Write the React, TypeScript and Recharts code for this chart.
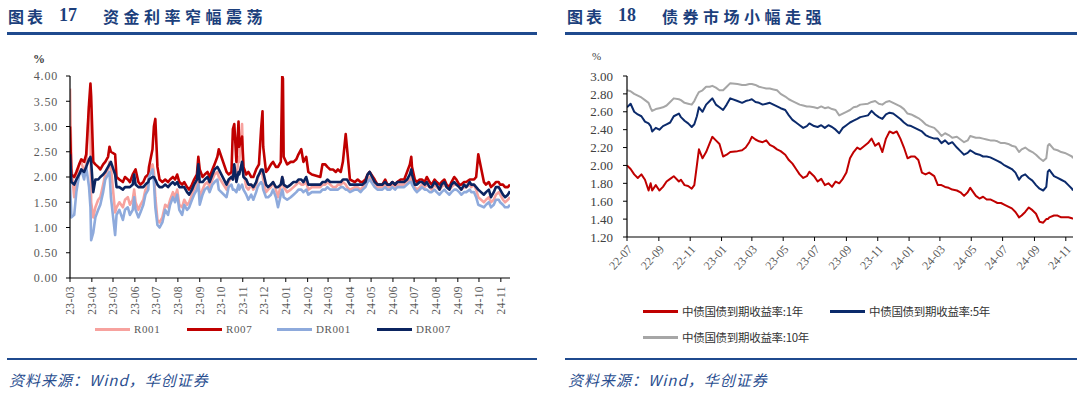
import React from 'react';
import { LineChart, Line, XAxis, YAxis } from 'recharts';

// ---------------- Left chart (图表17) data ----------------
const leftDates = [
  '2023-03-01','2023-03-03','2023-03-07','2023-03-10','2023-03-14','2023-03-17','2023-03-21','2023-03-24','2023-03-28','2023-03-30','2023-03-31',
  '2023-04-03','2023-04-06','2023-04-10','2023-04-13','2023-04-17','2023-04-20','2023-04-24','2023-04-26','2023-04-28',
  '2023-05-04','2023-05-06','2023-05-10','2023-05-15','2023-05-18','2023-05-22','2023-05-25','2023-05-29','2023-05-31',
  '2023-06-02','2023-06-06','2023-06-09','2023-06-13','2023-06-16','2023-06-20','2023-06-21','2023-06-26','2023-06-28','2023-06-30',
  '2023-07-03','2023-07-06','2023-07-10','2023-07-14','2023-07-18','2023-07-21','2023-07-25','2023-07-28','2023-07-31',
  '2023-08-03','2023-08-07','2023-08-10','2023-08-14','2023-08-17','2023-08-21','2023-08-24','2023-08-28','2023-08-30',
  '2023-09-01','2023-09-05','2023-09-08','2023-09-12','2023-09-15','2023-09-19','2023-09-22','2023-09-26','2023-09-28',
  '2023-10-09','2023-10-12','2023-10-16','2023-10-18','2023-10-20','2023-10-23','2023-10-26','2023-10-27','2023-10-31',
  '2023-11-02','2023-11-06','2023-11-09','2023-11-13','2023-11-16','2023-11-20','2023-11-22','2023-11-24','2023-11-27','2023-11-29','2023-11-30',
  '2023-12-04','2023-12-07','2023-12-11','2023-12-14','2023-12-18','2023-12-21','2023-12-25','2023-12-27','2023-12-28','2023-12-29',
  '2024-01-03','2024-01-08','2024-01-12','2024-01-16','2024-01-19','2024-01-23','2024-01-26','2024-01-30',
  '2024-02-02','2024-02-07','2024-02-19','2024-02-22','2024-02-26','2024-02-29',
  '2024-03-04','2024-03-08','2024-03-12','2024-03-15','2024-03-19','2024-03-22','2024-03-26','2024-03-28',
  '2024-04-01','2024-04-08','2024-04-12','2024-04-16','2024-04-19','2024-04-23','2024-04-26','2024-04-29',
  '2024-05-06','2024-05-10','2024-05-14','2024-05-17','2024-05-21','2024-05-24','2024-05-28','2024-05-31',
  '2024-06-04','2024-06-07','2024-06-12','2024-06-17','2024-06-21','2024-06-25','2024-06-27','2024-06-28',
  '2024-07-02','2024-07-05','2024-07-09','2024-07-12','2024-07-16','2024-07-19','2024-07-23','2024-07-26','2024-07-30',
  '2024-08-02','2024-08-06','2024-08-09','2024-08-13','2024-08-16','2024-08-20','2024-08-23','2024-08-27','2024-08-30',
  '2024-09-03','2024-09-06','2024-09-10','2024-09-13','2024-09-18','2024-09-20','2024-09-24','2024-09-27','2024-09-30',
  '2024-10-08','2024-10-11','2024-10-15','2024-10-18','2024-10-22','2024-10-25','2024-10-29','2024-10-31',
  '2024-11-04','2024-11-07','2024-11-11','2024-11-14',
];

const r001 = [
  3.75,2.20,1.60,1.95,2.25,2.30,2.10,2.25,3.40,2.90,1.50,
  1.20,1.40,1.55,1.60,1.85,2.05,2.15,2.30,2.20,
  1.30,1.40,1.50,1.40,1.55,1.60,1.45,1.55,1.75,
  1.50,1.35,1.45,1.55,1.75,1.85,2.10,2.25,2.10,1.60,
  1.15,1.10,1.20,1.45,1.40,1.55,1.70,1.60,1.75,
  1.45,1.40,1.55,1.45,1.50,1.65,1.75,1.85,1.95,
  1.60,1.75,1.85,1.90,1.80,1.95,2.05,2.10,2.00,
  1.75,1.90,2.00,2.10,2.00,1.95,2.40,2.30,3.05,
  2.10,1.80,1.75,1.85,1.75,1.85,1.95,2.05,2.10,2.05,1.95,
  1.70,1.75,1.80,1.90,1.75,1.60,1.85,2.00,1.95,1.80,
  1.70,1.75,1.80,1.85,1.90,1.85,1.85,1.90,
  1.75,1.80,1.80,1.85,1.85,1.90,
  1.85,1.80,1.80,1.85,1.85,1.90,1.85,1.80,
  1.75,1.80,1.80,1.75,1.80,1.85,1.95,2.00,
  1.85,1.80,1.80,1.80,1.85,1.80,1.80,1.85,
  1.80,1.85,1.85,1.85,1.90,1.95,2.00,1.90,
  1.80,1.75,1.80,1.85,1.80,1.85,1.80,1.75,1.85,
  1.80,1.75,1.80,1.85,1.80,1.75,1.80,1.85,1.85,
  1.80,1.75,1.80,1.80,1.85,1.80,1.85,1.75,1.60,
  1.50,1.55,1.60,1.50,1.55,1.65,1.70,1.65,
  1.55,1.50,1.55,1.60,
];

const r007 = [
  3.00,2.05,2.00,2.10,2.25,2.35,2.30,2.45,3.45,3.85,3.60,
  2.30,2.25,2.20,2.15,2.25,2.30,2.40,2.60,2.50,
  2.45,2.00,1.95,1.90,2.00,1.95,1.90,2.05,2.10,
  2.15,1.90,1.85,1.90,2.00,2.05,2.20,2.55,3.00,3.15,
  2.20,1.95,1.90,1.95,1.90,1.95,2.00,1.95,2.05,
  1.90,1.85,1.90,1.80,1.75,1.85,1.95,2.05,2.40,
  2.15,2.00,2.05,2.10,2.00,2.15,2.25,2.40,2.55,
  2.10,2.05,2.10,2.95,3.05,2.30,3.10,2.60,2.80,
  2.20,2.05,2.10,2.00,2.00,2.15,2.20,2.25,2.95,3.30,2.60,
  2.10,2.15,2.25,2.30,2.20,2.20,2.30,4.00,3.95,2.40,
  2.25,2.30,2.30,2.35,2.45,2.55,2.30,2.40,
  2.10,2.05,2.00,2.25,2.25,2.20,
  2.15,2.15,2.10,2.15,2.10,2.30,2.85,2.55,
  1.95,1.90,1.95,1.90,1.90,1.95,2.05,2.10,
  1.95,1.85,1.85,1.85,1.95,1.85,1.85,1.90,
  1.85,1.90,1.95,1.95,2.10,2.25,2.40,2.20,
  1.95,1.90,1.95,1.95,1.90,2.00,1.90,1.85,1.95,
  1.90,1.85,1.90,1.95,1.85,1.80,1.90,2.00,1.95,
  1.85,1.85,1.90,1.90,1.95,1.95,1.95,2.00,2.45,
  1.90,1.85,1.90,1.80,1.85,1.90,1.90,1.85,
  1.85,1.80,1.80,1.85,
];

const dr001 = [
  1.90,1.20,1.25,1.70,2.05,2.15,1.95,2.20,1.80,1.40,0.75,
  0.90,1.20,1.35,1.45,1.70,1.95,2.05,2.10,1.60,
  0.85,1.25,1.35,1.15,1.35,1.40,1.25,1.35,1.60,
  1.35,1.20,1.30,1.45,1.65,1.75,2.00,2.15,1.90,1.40,
  1.05,1.00,1.10,1.35,1.25,1.45,1.60,1.50,1.65,
  1.35,1.25,1.45,1.35,1.40,1.55,1.65,1.75,1.85,
  1.45,1.65,1.75,1.80,1.70,1.85,1.90,1.95,1.75,
  1.60,1.80,1.85,1.75,1.75,1.70,1.85,1.75,1.85,
  1.75,1.65,1.55,1.65,1.55,1.70,1.80,1.85,1.90,1.85,1.75,
  1.60,1.60,1.65,1.75,1.60,1.40,1.65,1.75,1.70,1.60,
  1.55,1.60,1.65,1.70,1.75,1.75,1.70,1.75,
  1.65,1.70,1.70,1.75,1.75,1.80,
  1.75,1.75,1.75,1.75,1.80,1.80,1.75,1.75,
  1.70,1.75,1.75,1.70,1.75,1.80,1.90,1.95,
  1.80,1.75,1.75,1.75,1.80,1.75,1.75,1.80,
  1.75,1.80,1.80,1.80,1.85,1.90,1.90,1.85,
  1.75,1.70,1.75,1.80,1.75,1.75,1.70,1.70,1.75,
  1.70,1.65,1.70,1.75,1.70,1.65,1.70,1.75,1.75,
  1.70,1.65,1.70,1.70,1.75,1.70,1.70,1.60,1.45,
  1.40,1.45,1.50,1.40,1.45,1.55,1.55,1.50,
  1.45,1.40,1.40,1.45,
];

const dr007 = [
  2.45,1.90,1.85,1.95,2.05,2.15,2.10,2.20,2.35,2.40,2.30,
  1.70,1.95,1.95,2.00,2.05,2.10,2.20,2.25,2.30,
  2.05,1.80,1.80,1.75,1.80,1.80,1.80,1.85,2.05,
  1.85,1.80,1.80,1.80,1.85,1.90,1.95,2.00,2.00,1.95,
  1.85,1.80,1.80,1.85,1.80,1.85,1.90,1.85,1.90,
  1.80,1.80,1.80,1.70,1.65,1.75,1.85,1.95,2.25,
  1.90,1.90,1.95,2.00,1.90,2.05,2.15,2.20,2.15,
  1.85,1.95,2.00,1.95,2.25,1.90,2.10,2.05,2.30,
  2.00,1.95,1.85,1.85,1.80,1.90,2.00,2.05,2.15,2.15,2.10,
  1.85,1.80,1.85,1.90,1.80,1.80,1.85,2.00,1.95,1.85,
  1.80,1.85,1.90,1.90,1.95,1.95,1.90,2.00,
  1.85,1.85,1.85,1.90,1.90,1.95,
  1.90,1.90,1.90,1.90,1.90,1.95,1.95,1.95,
  1.85,1.85,1.85,1.85,1.85,1.90,2.05,2.10,
  1.90,1.85,1.85,1.85,1.90,1.85,1.85,1.90,
  1.85,1.90,1.90,1.90,1.95,2.05,2.15,2.05,
  1.85,1.85,1.90,1.90,1.85,1.90,1.80,1.80,1.90,
  1.85,1.75,1.85,1.90,1.80,1.75,1.85,1.90,1.85,
  1.80,1.75,1.85,1.80,1.90,1.85,1.85,1.80,1.75,
  1.65,1.70,1.75,1.60,1.70,1.80,1.80,1.75,
  1.65,1.60,1.65,1.72,
];

const leftTickLabels = ['23-03','23-04','23-05','23-06','23-07','23-08','23-09','23-10','23-11','23-12','24-01','24-02','24-03','24-04','24-05','24-06','24-07','24-08','24-09','24-10','24-11'];
const leftYTicks = [0, 0.5, 1, 1.5, 2, 2.5, 3, 3.5, 4];
const leftSeriesNames = ['R001', 'R007', 'DR001', 'DR007'];

// ---------------- Right chart (图表18) data ----------------
const rightDates = [
  '2022-07-01','2022-07-08','2022-07-15','2022-07-22','2022-07-29','2022-08-05','2022-08-12','2022-08-16','2022-08-19','2022-08-26',
  '2022-09-02','2022-09-09','2022-09-16','2022-09-23','2022-09-30','2022-10-10','2022-10-14','2022-10-21','2022-10-28','2022-11-04',
  '2022-11-09','2022-11-14','2022-11-18','2022-11-25','2022-12-02','2022-12-09','2022-12-14','2022-12-21','2022-12-28','2023-01-04',
  '2023-01-11','2023-01-18','2023-02-01','2023-02-10','2023-02-17','2023-02-24','2023-03-01','2023-03-08','2023-03-15','2023-03-22',
  '2023-03-29','2023-04-05','2023-04-12','2023-04-19','2023-04-26','2023-05-05','2023-05-12','2023-05-19','2023-05-26','2023-06-02',
  '2023-06-09','2023-06-16','2023-06-21','2023-06-30','2023-07-07','2023-07-14','2023-07-21','2023-07-28','2023-08-04','2023-08-11',
  '2023-08-18','2023-08-25','2023-09-01','2023-09-08','2023-09-15','2023-09-22','2023-09-28','2023-10-13','2023-10-20','2023-10-27',
  '2023-11-03','2023-11-10','2023-11-17','2023-11-24','2023-12-01','2023-12-08','2023-12-15','2023-12-22','2023-12-29','2024-01-05',
  '2024-01-12','2024-01-19','2024-01-26','2024-02-02','2024-02-09','2024-02-19','2024-02-26','2024-03-04','2024-03-11','2024-03-18',
  '2024-03-25','2024-04-03','2024-04-10','2024-04-17','2024-04-24','2024-04-29','2024-05-10','2024-05-17','2024-05-24','2024-05-31',
  '2024-06-07','2024-06-14','2024-06-21','2024-06-28','2024-07-05','2024-07-12','2024-07-19','2024-07-26','2024-08-02','2024-08-07',
  '2024-08-14','2024-08-21','2024-08-28','2024-09-04','2024-09-11','2024-09-18','2024-09-24','2024-09-27','2024-09-30','2024-10-09',
  '2024-10-16','2024-10-23','2024-10-30','2024-11-06','2024-11-13','2024-11-15',
];

const yield1Y = [
  2.00,1.96,1.90,1.86,1.90,1.84,1.72,1.80,1.72,1.78,
  1.72,1.76,1.82,1.85,1.88,1.82,1.84,1.78,1.77,1.74,
  1.78,2.00,2.18,2.08,2.15,2.25,2.32,2.28,2.24,2.10,
  2.12,2.15,2.16,2.17,2.20,2.26,2.32,2.29,2.27,2.26,
  2.28,2.23,2.21,2.18,2.16,2.12,2.06,2.02,1.96,1.90,
  1.86,1.88,1.93,1.88,1.82,1.85,1.78,1.80,1.76,1.82,
  1.80,1.85,1.92,2.08,2.15,2.20,2.18,2.25,2.30,2.22,
  2.25,2.15,2.30,2.38,2.36,2.38,2.30,2.20,2.08,2.10,
  2.10,2.06,1.92,1.90,1.92,1.88,1.78,1.78,1.76,1.75,
  1.73,1.72,1.70,1.66,1.70,1.75,1.66,1.63,1.65,1.62,
  1.62,1.60,1.58,1.58,1.56,1.54,1.52,1.48,1.42,1.44,
  1.48,1.53,1.50,1.46,1.37,1.36,1.40,1.40,1.42,1.44,
  1.44,1.42,1.42,1.42,1.41,1.40,
];

const yield5Y = [
  2.65,2.69,2.60,2.57,2.55,2.49,2.47,2.44,2.38,2.42,
  2.40,2.44,2.46,2.48,2.55,2.58,2.54,2.50,2.47,2.43,
  2.46,2.55,2.65,2.60,2.68,2.72,2.75,2.68,2.65,2.62,
  2.68,2.75,2.72,2.70,2.72,2.73,2.74,2.71,2.70,2.68,
  2.69,2.70,2.68,2.66,2.64,2.62,2.56,2.51,2.48,2.45,
  2.42,2.44,2.47,2.44,2.43,2.45,2.42,2.45,2.43,2.40,
  2.36,2.42,2.45,2.48,2.50,2.52,2.54,2.56,2.61,2.57,
  2.54,2.52,2.57,2.59,2.58,2.55,2.52,2.48,2.45,2.44,
  2.42,2.40,2.38,2.34,2.32,2.30,2.30,2.25,2.28,2.24,
  2.26,2.20,2.16,2.12,2.14,2.17,2.13,2.12,2.10,2.10,
  2.09,2.07,2.05,2.03,2.00,1.98,1.96,1.92,1.84,1.88,
  1.90,1.86,1.83,1.78,1.74,1.72,1.76,1.93,1.95,1.88,
  1.86,1.84,1.82,1.78,1.74,1.72,
];

const yield10Y = [
  2.84,2.83,2.80,2.78,2.76,2.73,2.70,2.64,2.61,2.63,
  2.64,2.65,2.67,2.71,2.75,2.74,2.73,2.70,2.69,2.68,
  2.72,2.78,2.82,2.84,2.88,2.88,2.89,2.87,2.84,2.84,
  2.88,2.92,2.91,2.90,2.90,2.91,2.91,2.90,2.88,2.87,
  2.86,2.86,2.85,2.84,2.80,2.77,2.74,2.72,2.70,2.68,
  2.67,2.66,2.66,2.65,2.64,2.66,2.64,2.65,2.63,2.62,
  2.56,2.58,2.60,2.62,2.65,2.66,2.68,2.69,2.71,2.72,
  2.69,2.68,2.71,2.72,2.70,2.68,2.66,2.63,2.58,2.57,
  2.55,2.53,2.50,2.46,2.44,2.42,2.38,2.33,2.36,2.34,
  2.31,2.32,2.29,2.26,2.28,2.33,2.31,2.31,2.30,2.29,
  2.28,2.28,2.27,2.25,2.25,2.24,2.22,2.21,2.15,2.18,
  2.20,2.17,2.15,2.12,2.08,2.05,2.08,2.22,2.24,2.18,
  2.17,2.15,2.14,2.12,2.10,2.08,
];

const rightTickLabels = ['22-07','22-09','22-11','23-01','23-03','23-05','23-07','23-09','23-11','24-01','24-03','24-05','24-07','24-09','24-11'];
const rightYTicks = [1.2, 1.4, 1.6, 1.8, 2.0, 2.2, 2.4, 2.6, 2.8, 3.0];
const rightSeriesNames = ['中债国债到期收益率:1年', '中债国债到期收益率:5年', '中债国债到期收益率:10年'];

// ---------------- helpers ----------------
const toTs = (d: string) => Date.parse(d + 'T00:00:00Z');
const labelTs = (l: string) => Date.UTC(2000 + Number(l.slice(0, 2)), Number(l.slice(3, 5)) - 1, 1);

const leftData = leftDates.map((d, i) => ({ t: toTs(d), r001: r001[i], r007: r007[i], dr001: dr001[i], dr007: dr007[i] }));
const rightData = rightDates.map((d, i) => ({ t: toTs(d), y1: yield1Y[i], y5: yield5Y[i], y10: yield10Y[i] }));
const leftTicks = leftTickLabels.map(labelTs);
const rightTicks = rightTickLabels.map(labelTs);

const BLUE = '#1F4A8E';
const AXIS_TEXT = '#595959';
const SERIF = '"Liberation Serif", "Times New Roman", serif';
const CJK = '"Noto Sans CJK SC", "Noto Sans", sans-serif';

const LeftXTick = (props: any) => {
  const { x, y, index } = props;
  return (
    <text x={x} y={y} transform={`rotate(-90, ${x}, ${y})`} textAnchor="end" dominantBaseline="central"
      fontFamily={SERIF} fontSize={11.5} fill={AXIS_TEXT} letterSpacing={0.4}>
      {leftTickLabels[index]}
    </text>
  );
};

const RightXTick = (props: any) => {
  const { x, y, index } = props;
  return (
    <text x={x + 3} y={y + 2} transform={`rotate(-48, ${x + 3}, ${y + 2})`} textAnchor="end" dominantBaseline="central"
      fontFamily={SERIF} fontSize={12} fill={AXIS_TEXT}>
      {rightTickLabels[index]}
    </text>
  );
};

const LegendItem = ({ color, label, left, top, font, size, textColor, spacing }: any) => (
  <div style={{ position: 'absolute', left, top, height: 14, display: 'flex', alignItems: 'center', whiteSpace: 'nowrap' }}>
    <div style={{ width: 35, height: 3, background: color }} />
    <span style={{ marginLeft: 4, fontFamily: font, fontSize: size, color: textColor, letterSpacing: spacing, lineHeight: '14px' }}>{label}</span>
  </div>
);

export default function App() {
  const leftColors = ['#F7A29E', '#C00000', '#8EAADC', '#0B2460'];
  const leftKeys = ['r001', 'r007', 'dr001', 'dr007'];
  const rightColors = ['#C00000', '#0B2A6B', '#A6A6A6'];
  const rightKeys = ['y1', 'y5', 'y10'];

  return (
    <div style={{ position: 'absolute', left: 0, top: 0, width: 1080, height: 402, background: '#fff', overflow: 'hidden' }}>
      {/* Titles */}
      <div style={{ position: 'absolute', left: 8, top: 6, fontFamily: CJK, fontSize: 16, fontWeight: 700, color: '#1C3F7C', letterSpacing: 3, lineHeight: '20px' }}>图表</div>
      <div style={{ position: 'absolute', left: 59, top: 5, fontFamily: SERIF, fontSize: 18, fontWeight: 700, color: '#1C3F7C', lineHeight: '20px' }}>17</div>
      <div style={{ position: 'absolute', left: 103, top: 6, fontFamily: CJK, fontSize: 16, fontWeight: 700, color: '#1C3F7C', letterSpacing: 4.5, lineHeight: '20px' }}>资金利率窄幅震荡</div>

      <div style={{ position: 'absolute', left: 567, top: 6, fontFamily: CJK, fontSize: 16, fontWeight: 700, color: '#1C3F7C', letterSpacing: 3, lineHeight: '20px' }}>图表</div>
      <div style={{ position: 'absolute', left: 618, top: 5, fontFamily: SERIF, fontSize: 18, fontWeight: 700, color: '#1C3F7C', lineHeight: '20px' }}>18</div>
      <div style={{ position: 'absolute', left: 662, top: 6, fontFamily: CJK, fontSize: 16, fontWeight: 700, color: '#1C3F7C', letterSpacing: 4.5, lineHeight: '20px' }}>债券市场小幅走强</div>

      {/* Rules */}
      <div style={{ position: 'absolute', left: 7, top: 32, width: 530, height: 2.5, background: BLUE }} />
      <div style={{ position: 'absolute', left: 565, top: 32, width: 512, height: 2.5, background: BLUE }} />
      <div style={{ position: 'absolute', left: 7, top: 358, width: 530, height: 2, background: BLUE }} />
      <div style={{ position: 'absolute', left: 565, top: 358, width: 512, height: 2, background: BLUE }} />

      {/* Sources */}
      <div style={{ position: 'absolute', left: 9, top: 370, fontFamily: CJK, fontSize: 15, fontStyle: 'italic', color: '#2B4F90', letterSpacing: 1, lineHeight: '20px' }}>资料来源：Wind，华创证券</div>
      <div style={{ position: 'absolute', left: 568, top: 370, fontFamily: CJK, fontSize: 15, fontStyle: 'italic', color: '#2B4F90', letterSpacing: 1, lineHeight: '20px' }}>资料来源：Wind，华创证券</div>

      {/* % units */}
      <div style={{ position: 'absolute', left: 33, top: 52, fontFamily: SERIF, fontSize: 12, fontWeight: 700, color: '#404040', lineHeight: '14px' }}>%</div>
      <div style={{ position: 'absolute', left: 592, top: 49, fontFamily: SERIF, fontSize: 11, color: '#404040', lineHeight: '14px' }}>%</div>

      {/* Left chart */}
      <div style={{ position: 'absolute', left: 0, top: 0 }}>
        <LineChart width={540} height={402} data={leftData} margin={{ top: 76, right: 30, bottom: 0, left: 0 }}>
          <XAxis dataKey="t" type="number" domain={[toTs('2023-03-01'), toTs('2024-11-14')]} ticks={leftTicks}
            interval={0} height={124} tick={<LeftXTick />} tickSize={4} tickMargin={4}
            axisLine={{ stroke: '#000', strokeWidth: 1.2 }} tickLine={{ stroke: '#000' }} allowDataOverflow />
          <YAxis type="number" domain={[0, 4]} ticks={leftYTicks} interval={0} width={70}
            tickFormatter={(v: number) => v.toFixed(2)} tickSize={4} tickMargin={8}
            tick={{ fontFamily: SERIF, fontSize: 12, fill: AXIS_TEXT, letterSpacing: 0.8 }}
            axisLine={{ stroke: '#000', strokeWidth: 1.2 }} tickLine={{ stroke: '#000' }} allowDataOverflow />
          {leftKeys.map((k, i) => (
            <Line key={k} dataKey={k} name={leftSeriesNames[i]} stroke={leftColors[i]} strokeWidth={2.6}
              dot={false} isAnimationActive={false} strokeLinejoin="round" type="linear" />
          ))}
        </LineChart>
      </div>

      {/* Left legend */}
      {leftSeriesNames.map((n, i) => (
        <LegendItem key={n} color={leftColors[i]} label={n} left={[95, 187, 277, 377][i]} top={322}
          font={SERIF} size={11} textColor={AXIS_TEXT} spacing={0.6} />
      ))}

      {/* Right chart */}
      <div style={{ position: 'absolute', left: 540, top: 0 }}>
        <LineChart width={540} height={402} data={rightData} margin={{ top: 76, right: 7, bottom: 0, left: 0 }}>
          <XAxis dataKey="t" type="number" domain={[toTs('2022-07-01'), toTs('2024-11-15')]} ticks={rightTicks}
            interval={0} height={165} tick={<RightXTick />} tickSize={4} tickMargin={4}
            axisLine={{ stroke: '#000', strokeWidth: 1.2 }} tickLine={{ stroke: '#000' }} allowDataOverflow />
          <YAxis type="number" domain={[1.2, 3.0]} ticks={rightYTicks} interval={0} width={87}
            tickFormatter={(v: number) => v.toFixed(2)} tickSize={4} tickMargin={10}
            tick={{ fontFamily: SERIF, fontSize: 13, fill: '#404040' }}
            axisLine={{ stroke: '#000', strokeWidth: 1.2 }} tickLine={{ stroke: '#000' }} allowDataOverflow />
          {rightKeys.map((k, i) => (
            <Line key={k} dataKey={k} name={rightSeriesNames[i]} stroke={rightColors[i]} strokeWidth={2}
              dot={false} isAnimationActive={false} strokeLinejoin="round" type="linear" />
          ))}
        </LineChart>
      </div>

      {/* Right legend */}
      <LegendItem color={rightColors[0]} label={rightSeriesNames[0]} left={643} top={304} font={CJK} size={11.5} textColor="#333" spacing={-0.3} />
      <LegendItem color={rightColors[1]} label={rightSeriesNames[1]} left={830} top={304} font={CJK} size={11.5} textColor="#333" spacing={-0.3} />
      <LegendItem color={rightColors[2]} label={rightSeriesNames[2]} left={643} top={330} font={CJK} size={11.5} textColor="#333" spacing={-0.3} />
    </div>
  );
}
